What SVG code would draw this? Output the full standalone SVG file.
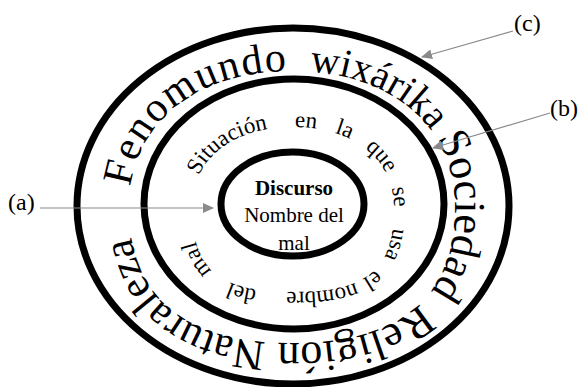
<svg xmlns="http://www.w3.org/2000/svg" width="578" height="387" viewBox="0 0 578 387">
<style>
 .ring{fill:none;stroke:#000;stroke-width:7}
 .serif{font-family:"Liberation Serif","Times New Roman",serif;fill:#000}
 .mid{font-size:23px}
 .in{font-size:21px;text-anchor:middle}
 .lbl{font-size:24px}
 .conn{stroke:#8a8a8a;stroke-width:1.2;fill:none}
</style>
<defs>
 <marker id="ah" markerWidth="11" markerHeight="10" refX="10" refY="5" orient="auto" markerUnits="userSpaceOnUse">
  <path d="M0,0 L11,5 L0,10 Z" fill="#8a8a8a"/>
 </marker>
 <path id="outerPath" d="M129,207 C129,125.4 194.2,71 292,71 C389.8,71 455,125.4 455,207 C455,296.8 399.6,343 292,343 C184.4,343 129,296.8 129,207 Z"/>
 <path id="midPath" d="M192,207.5 C192,159.2 232.4,127 293,127 C353.6,127 394,159.2 394,207.5 C394,269 368,292 293,292 C218,292 192,269 192,207.5 Z"/>
</defs>
<g id="outer-ring">
 <ellipse class="ring" cx="293" cy="206" rx="216" ry="178"/>
 <text class="serif" font-size="42" letter-spacing="1.5"><textPath href="#outerPath" startOffset="2.1%">Fenomundo</textPath></text>
 <text class="serif" font-size="40"><textPath href="#outerPath" startOffset="26.6%">wixárika</textPath></text>
 <text class="serif" font-size="44"><textPath href="#outerPath" startOffset="42.1%">Sociedad</textPath></text>
 <text class="serif" font-size="44"><textPath href="#outerPath" startOffset="60.5%">Religión</textPath></text>
 <text class="serif" font-size="43"><textPath href="#outerPath" startOffset="77.5%">Naturaleza</textPath></text>
</g>
<g id="middle-ring">
 <ellipse class="ring" cx="294" cy="204" rx="150" ry="125"/>
 <text class="serif mid"><textPath href="#midPath" startOffset="5.5%">Situación</textPath></text>
 <text class="serif mid"><textPath href="#midPath" startOffset="24.5%">en</textPath></text>
 <text class="serif mid"><textPath href="#midPath" startOffset="31.3%">la</textPath></text>
 <text class="serif mid"><textPath href="#midPath" startOffset="37%">que</textPath></text>
 <text class="serif mid"><textPath href="#midPath" startOffset="45.2%">se</textPath></text>
 <text class="serif mid"><textPath href="#midPath" startOffset="51.9%">usa</textPath></text>
 <text class="serif mid"><textPath href="#midPath" startOffset="59.6%">el</textPath></text>
 <text class="serif mid"><textPath href="#midPath" startOffset="63.6%">nombre</textPath></text>
 <text class="serif mid"><textPath href="#midPath" startOffset="80.3%">del</textPath></text>
 <text class="serif mid"><textPath href="#midPath" startOffset="88.6%">mal</textPath></text>
</g>
<g id="inner-ring">
 <ellipse class="ring" cx="292.5" cy="204" rx="71.5" ry="52"/>
 <text class="serif in" x="294" y="195" font-weight="bold">Discurso</text>
 <text class="serif in" x="294" y="222">Nombre del</text>
 <text class="serif in" x="294" y="250">mal</text>
</g>
<g id="labels">
 <text id="label-a" class="serif lbl" x="8" y="209.5">(a)</text>
 <text id="label-b" class="serif lbl" x="550" y="116">(b)</text>
 <text id="label-c" class="serif lbl" x="514" y="31">(c)</text>
</g>
<g id="connectors">
 <line class="conn" x1="40" y1="208" x2="213" y2="208" marker-end="url(#ah)"/>
 <line class="conn" x1="550" y1="113" x2="433" y2="148" marker-end="url(#ah)"/>
 <line class="conn" x1="513" y1="31" x2="422" y2="57" marker-end="url(#ah)"/>
</g>
</svg>
